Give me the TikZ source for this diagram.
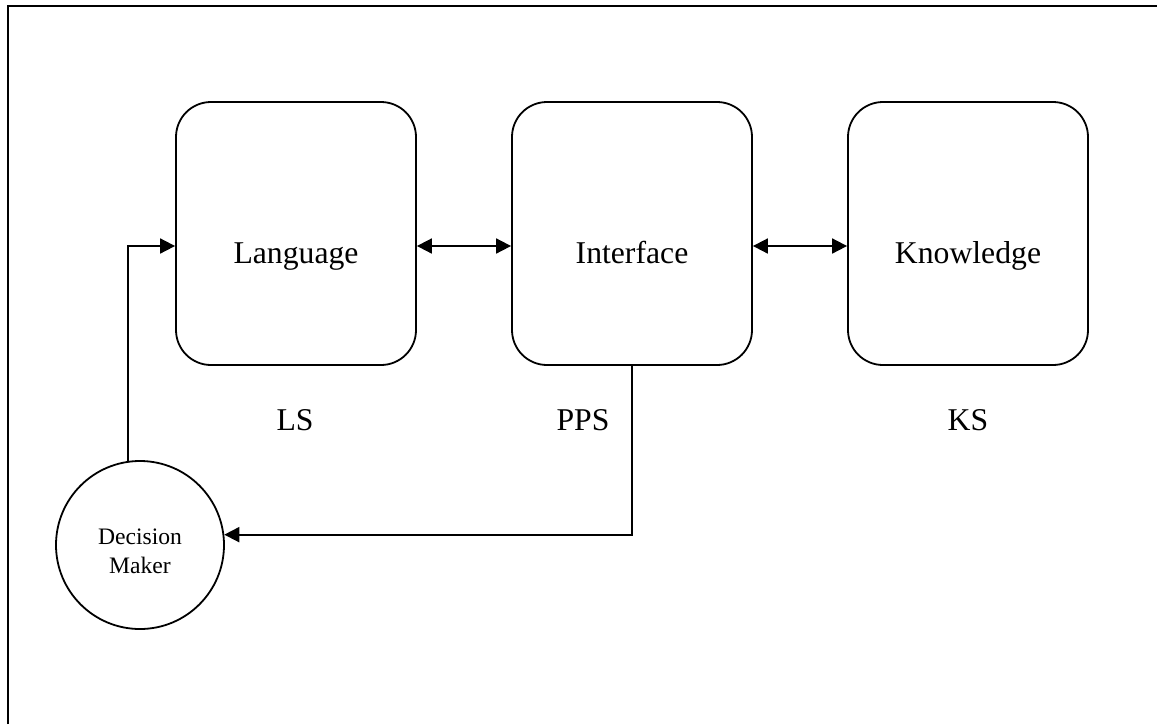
\documentclass[tikz,border=0pt]{standalone}
\usepackage{fontspec}
\setmainfont{Liberation Serif}
\usetikzlibrary{arrows.meta}
\begin{document}
\begin{tikzpicture}[x=1pt, y=-1pt, line width=1.8pt,
  frame/.style={line width=2.2pt},
  subsystem/.style={draw, rounded corners=35pt, minimum width=240pt, minimum height=263pt, inner sep=0pt},
  bigtext/.style={font=\fontsize{31.7}{38}\selectfont, inner sep=0pt, anchor=base},
  actor/.style={draw, circle, minimum size=168pt, inner sep=0pt},
  actortext/.style={align=center, inner sep=0pt, font=\fontsize{23.6}{29}\selectfont},
  link/.style={-{Triangle[length=15pt, width=15pt]}},
  both/.style={{Triangle[length=15pt, width=15pt]}-{Triangle[length=15pt, width=15pt]}}]
\useasboundingbox (0,0) rectangle (1157,724);

% page frame
\draw[frame] (8,724) -- (8,6) -- (1157,6);

% the three subsystems
\node[subsystem] (lang)  at (296,233.5) {};
\node[subsystem] (iface) at (632,233.5) {};
\node[subsystem] (know)  at (968,233.5) {};

\node[bigtext] (langt)  at (296,263) {Language};
\node[bigtext] (ifacet) at (632,263) {Interface};
\node[bigtext] (knowt)  at (968,263) {Knowledge};

% subsystem abbreviations
\node[bigtext] (ls)  at (295,430) {LS};
\node[bigtext] (pps) at (583,430) {PPS};
\node[bigtext] (ks)  at (968,430) {KS};

% the user
\node[actor] (dm) at (140,545) {};
\node[actortext] (dmt) at (140,551) {Decision\\Maker};

% connectors
\draw[both] ([yshift=-12.5pt]lang.east) -- ([yshift=-12.5pt]iface.west);
\draw[both] ([yshift=-12.5pt]iface.east) -- ([yshift=-12.5pt]know.west);
\draw[link] (dm.98.2) |- ([yshift=-12.5pt]lang.west);
\draw[link] (iface.south) |- (dm.7.5);
\end{tikzpicture}
\end{document}
